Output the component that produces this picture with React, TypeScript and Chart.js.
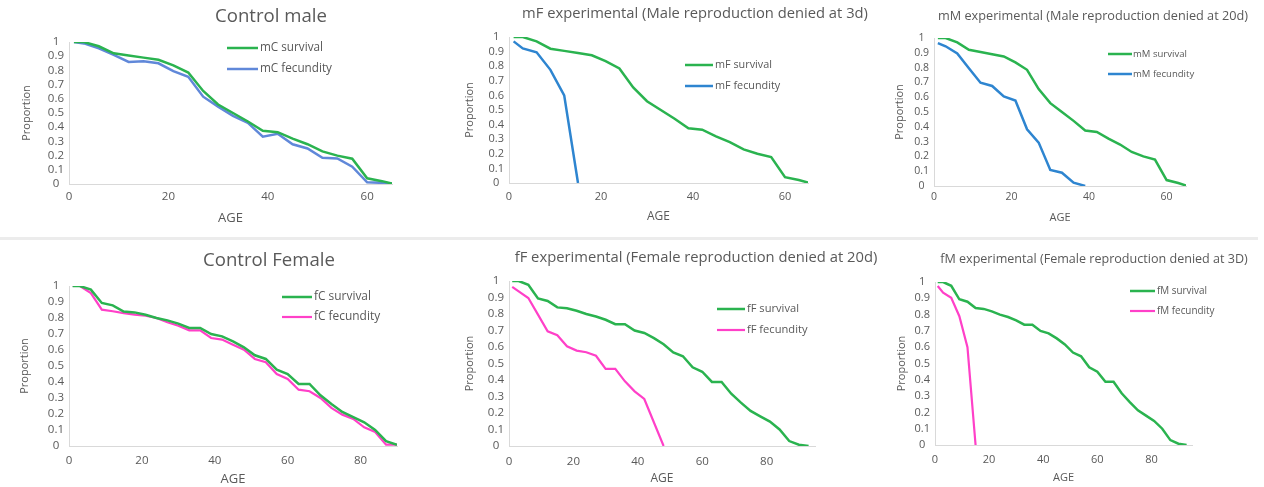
import React, { useEffect, useRef } from 'react';
import { Chart, registerables } from 'chart.js';

Chart.register(...registerables);

const FONT = '"Open Sans", "Liberation Sans", sans-serif';
const TEXT = '#595959';
const AXIS = '#d9d9d9';
const GREEN = '#2ab34f';
const BLUE_LIGHT = '#6088d9';
const BLUE = '#2e85d0';
const PINK = '#ff40c8';

// ---- tick labels ----
const yTicks = [0, 0.1, 0.2, 0.3, 0.4, 0.5, 0.6, 0.7, 0.8, 0.9, 1];
const maleXTicks = [0, 20, 40, 60];
const femaleXTicks = [0, 20, 40, 60, 80];

// ---- male data ----
const maleAges = [1, 3, 6, 9, 12, 15, 18, 21, 24, 27, 30, 33, 36, 39, 42, 45, 48, 51, 54, 57, 60, 63, 65];
const maleSurvival = [1, 1, 0.97, 0.92, 0.905, 0.89, 0.875, 0.835, 0.785, 0.655, 0.56, 0.5, 0.44, 0.375, 0.365, 0.32, 0.28, 0.23, 0.2, 0.178, 0.04, 0.02, 0.003];
const mCFecundity = [1, 0.99, 0.955, 0.91, 0.86, 0.865, 0.85, 0.795, 0.755, 0.615, 0.545, 0.48, 0.43, 0.333, 0.354, 0.28, 0.25, 0.185, 0.18, 0.122, 0.012, 0.008, 0.003];
const mFAges = [1, 3, 6, 9, 12, 15];
const mFFecundity = [0.97, 0.922, 0.895, 0.775, 0.6, 0];
const mMAges = [1, 3, 6, 9, 12, 15, 18, 21, 24, 27, 30, 33, 36, 39];
const mMFecundity = [0.966, 0.944, 0.896, 0.795, 0.698, 0.676, 0.606, 0.577, 0.383, 0.293, 0.108, 0.09, 0.023, 0];

// ---- female data ----
const femaleAges = [1, 3, 6, 9, 12, 15, 18, 21, 24, 27, 30, 33, 36, 39, 42, 45, 48, 51, 54, 57, 60, 63, 66, 69, 72, 75, 78, 81, 84, 87, 90, 93];
const femaleSurvival = [1, 1, 0.977, 0.894, 0.879, 0.84, 0.835, 0.82, 0.8, 0.785, 0.765, 0.738, 0.738, 0.7, 0.685, 0.654, 0.617, 0.567, 0.544, 0.477, 0.45, 0.388, 0.388, 0.317, 0.263, 0.213, 0.18, 0.148, 0.1, 0.03, 0.008, 0];
const fCAges = [1, 3, 6, 9, 12, 15, 18, 21, 24, 27, 30, 33, 36, 39, 42, 45, 48, 51, 54, 57, 60, 63, 66, 69, 72, 75, 78, 81, 84, 87, 90];
const fCFecundity = [1, 1, 0.956, 0.852, 0.842, 0.831, 0.821, 0.815, 0.8, 0.773, 0.752, 0.723, 0.723, 0.675, 0.665, 0.633, 0.602, 0.544, 0.523, 0.45, 0.419, 0.352, 0.342, 0.3, 0.238, 0.196, 0.169, 0.117, 0.088, 0.008, 0.008];
const fFAges = [1, 3, 6, 9, 12, 15, 18, 21, 24, 27, 30, 33, 36, 39, 42, 48];
const fFFecundity = [0.964, 0.937, 0.897, 0.796, 0.695, 0.671, 0.604, 0.578, 0.568, 0.547, 0.467, 0.467, 0.392, 0.331, 0.285, 0];
const fMAges = [1, 3, 6, 9, 12, 15];
const fMFecundity = [0.975, 0.935, 0.903, 0.79, 0.6, 0];

const zip = (xs: number[], ys: number[]) => ys.map((y, i) => ({ x: xs[i], y }));

const ROW1 = { y: 0, h: 238 };
const ROW2 = { y: 240, h: 247 };
const COL1 = { x: 0, w: 455 };
const COL2 = { x: 455, w: 430 };
const COL3 = { x: 885, w: 379 };

const panels: any[] = [
  {
    cell: { ...COL1, ...ROW1 },
    area: { left: 69, right: 392, top: 42, bottom: 184 },
    xMax: 65, xTicks: maleXTicks, tickSize: 11.5, tickY: 197, propX: 27, ageY: 218, ageSize: 13,
    title: { text: 'Control male', cx: 271, cy: 17, width: 112 },
    legend: { x1: 227, x2: 258, tx: 260, ys: [48, 69], width: 63 },
    series: [
      { label: 'mC survival', x: maleAges, y: maleSurvival, color: GREEN },
      { label: 'mC fecundity', x: maleAges, y: mCFecundity, color: BLUE_LIGHT },
    ],
  },
  {
    cell: { ...COL2, ...ROW1 },
    area: { left: 509, right: 808, top: 37, bottom: 183 },
    xMax: 65, xTicks: maleXTicks, tickSize: 11, tickY: 197, propX: 470, ageY: 217, ageSize: 12,
    title: { text: 'mF experimental (Male reproduction denied at 3d)', cx: 695, cy: 14, width: 346 },
    legend: { x1: 685, x2: 713, tx: 715, ys: [65, 86], width: 57 },
    series: [
      { label: 'mF survival', x: maleAges, y: maleSurvival, color: GREEN },
      { label: 'mF fecundity', x: mFAges, y: mFFecundity, color: BLUE },
    ],
  },
  {
    cell: { ...COL3, ...ROW1 },
    area: { left: 934, right: 1186, top: 38, bottom: 186 },
    xMax: 65, xTicks: maleXTicks, tickSize: 10.5, tickY: 197, propX: 900, ageY: 218, ageSize: 11,
    title: { text: 'mM experimental (Male reproduction denied at 20d)', cx: 1093, cy: 16, width: 310 },
    legend: { x1: 1108, x2: 1132, tx: 1133, ys: [54, 74], width: 54 },
    series: [
      { label: 'mM survival', x: maleAges, y: maleSurvival, color: GREEN },
      { label: 'mM fecundity', x: mMAges, y: mMFecundity, color: BLUE },
    ],
  },
  {
    cell: { ...COL1, ...ROW2 },
    area: { left: 69, right: 397, top: 286, bottom: 446 },
    xMax: 90, xTicks: femaleXTicks, tickSize: 11.5, tickY: 461, propX: 25, ageY: 479, ageSize: 13,
    title: { text: 'Control Female', cx: 269, cy: 261, width: 132 },
    legend: { x1: 282, x2: 312, tx: 314, ys: [297, 317], width: 57 },
    series: [
      { label: 'fC survival', x: femaleAges, y: femaleSurvival, color: GREEN },
      { label: 'fC fecundity', x: fCAges, y: fCFecundity, color: PINK },
    ],
  },
  {
    cell: { ...COL2, ...ROW2 },
    area: { left: 509, right: 815, top: 281, bottom: 446 },
    xMax: 95, xTicks: femaleXTicks, tickSize: 11.5, tickY: 462, propX: 470, ageY: 479, ageSize: 12,
    title: { text: 'fF experimental (Female reproduction denied at 20d)', cx: 696, cy: 258, width: 363 },
    legend: { x1: 717, x2: 745, tx: 747, ys: [309, 330], width: 52 },
    series: [
      { label: 'fF survival', x: femaleAges, y: femaleSurvival, color: GREEN },
      { label: 'fF fecundity', x: fFAges, y: fFFecundity, color: PINK },
    ],
  },
  {
    cell: { ...COL3, ...ROW2 },
    area: { left: 935, right: 1192, top: 282, bottom: 445 },
    xMax: 95, xTicks: femaleXTicks, tickSize: 11, tickY: 460, propX: 902, ageY: 478, ageSize: 11,
    title: { text: 'fM experimental (Female reproduction denied at 3D)', cx: 1094, cy: 259, width: 308 },
    legend: { x1: 1130, x2: 1155, tx: 1157, ys: [291, 311], width: 50 },
    series: [
      { label: 'fM survival', x: femaleAges, y: femaleSurvival, color: GREEN },
      { label: 'fM fecundity', x: fMAges, y: fMFecundity, color: PINK },
    ],
  },
];

function fitSize(ctx: CanvasRenderingContext2D, text: string, width: number) {
  ctx.font = `100px ${FONT}`;
  const w = ctx.measureText(text).width;
  return (100 * width) / w;
}

function makeDecor(p: any) {
  const ox = p.cell.x;
  const oy = p.cell.y;
  return {
    id: 'decor',
    afterDraw(chart: any) {
      const ctx = chart.ctx as CanvasRenderingContext2D;
      ctx.save();
      ctx.fillStyle = TEXT;
      ctx.textBaseline = 'middle';
      // title
      const ts = fitSize(ctx, p.title.text, p.title.width);
      ctx.font = `${ts}px ${FONT}`;
      ctx.textAlign = 'center';
      ctx.fillText(p.title.text, p.title.cx - ox, p.title.cy - oy);
      // legend
      const ls = fitSize(ctx, chart.data.datasets[0].label, p.legend.width);
      ctx.font = `${ls}px ${FONT}`;
      ctx.textAlign = 'left';
      chart.data.datasets.forEach((ds: any, i: number) => {
        const y = p.legend.ys[i] - oy;
        ctx.strokeStyle = ds.borderColor;
        ctx.lineWidth = ds.borderWidth;
        ctx.beginPath();
        ctx.moveTo(p.legend.x1 - ox, y);
        ctx.lineTo(p.legend.x2 - ox, y);
        ctx.stroke();
        ctx.fillStyle = TEXT;
        ctx.fillText(ds.label, p.legend.tx - ox, y);
      });
      ctx.restore();
    },
  };
}

function buildConfig(p: any): any {
  const lh = (s: number) => s * 1.2;
  const cellBottom = p.cell.y + p.cell.h;
  return {
    type: 'line',
    data: {
      datasets: p.series.map((s: any) => ({
        label: s.label,
        data: zip(s.x, s.y),
        borderColor: s.color,
        backgroundColor: s.color,
        borderWidth: s.color === PINK ? 2.2 : 2.5,
        pointRadius: 0,
        tension: 0,
        fill: false,
      })),
    },
    options: {
      animation: false,
      responsive: false,
      devicePixelRatio: 1,
      events: [],
      layout: {
        padding: {
          left: 0,
          top: p.area.top - p.cell.y,
          right: p.cell.x + p.cell.w - p.area.right,
          bottom: 0,
        },
      },
      plugins: {
        legend: { display: false },
        title: { display: false },
        tooltip: { enabled: false },
      },
      scales: {
        x: {
          type: 'linear',
          min: 0,
          max: p.xMax,
          afterBuildTicks: (s: any) => {
            s.ticks = p.xTicks.map((v: number) => ({ value: v }));
          },
          afterFit: (s: any) => {
            s.height = cellBottom - p.area.bottom;
          },
          grid: { display: false, drawTicks: false },
          border: { display: true, color: AXIS, width: 1 },
          ticks: {
            color: TEXT,
            font: { family: FONT, size: p.tickSize, lineHeight: 1.2 },
            padding: p.tickY - p.area.bottom - lh(p.tickSize) / 2,
            maxRotation: 0,
            autoSkip: false,
          },
          title: {
            display: true,
            text: 'AGE',
            color: TEXT,
            font: { family: FONT, size: p.ageSize, lineHeight: 1.2 },
            padding: { top: 0, bottom: Math.max(0, cellBottom - p.ageY - lh(p.ageSize) / 2) },
          },
        },
        y: {
          type: 'linear',
          min: 0,
          max: 1,
          afterBuildTicks: (s: any) => {
            s.ticks = yTicks.map((v) => ({ value: v }));
          },
          afterFit: (s: any) => {
            s.width = p.area.left - p.cell.x;
          },
          grid: { display: false, drawTicks: false },
          border: { display: true, color: AXIS, width: 1 },
          ticks: {
            color: TEXT,
            font: { family: FONT, size: p.tickSize, lineHeight: 1.2 },
            padding: 5,
            crossAlign: 'center',
            autoSkip: false,
            callback: (v: any) => String(+Number(v).toFixed(1)),
          },
          title: {
            display: true,
            text: 'Proportion',
            color: TEXT,
            font: { family: FONT, size: 11, lineHeight: 1.2 },
            padding: { top: p.propX - p.cell.x - lh(11) / 2, bottom: 0 },
          },
        },
      },
    },
    plugins: [makeDecor(p)],
  };
}

function Panel({ p }: { p: any }) {
  const ref = useRef<HTMLCanvasElement>(null);
  useEffect(() => {
    const chart = new Chart(ref.current as HTMLCanvasElement, buildConfig(p));
    return () => chart.destroy();
  }, [p]);
  return (
    <canvas
      ref={ref}
      width={p.cell.w}
      height={p.cell.h}
      style={{ position: 'absolute', left: p.cell.x, top: p.cell.y, width: p.cell.w, height: p.cell.h }}
    />
  );
}

export default function App() {
  return (
    <div
      style={{
        position: 'absolute',
        left: 0,
        top: 0,
        width: 1264,
        height: 487,
        background: '#ffffff',
        overflow: 'hidden',
      }}
    >
      <div style={{ position: 'absolute', left: 0, top: 237, width: 1258, height: 3, background: '#ececec' }} />
      {panels.map((p, i) => (
        <Panel key={i} p={p} />
      ))}
    </div>
  );
}
